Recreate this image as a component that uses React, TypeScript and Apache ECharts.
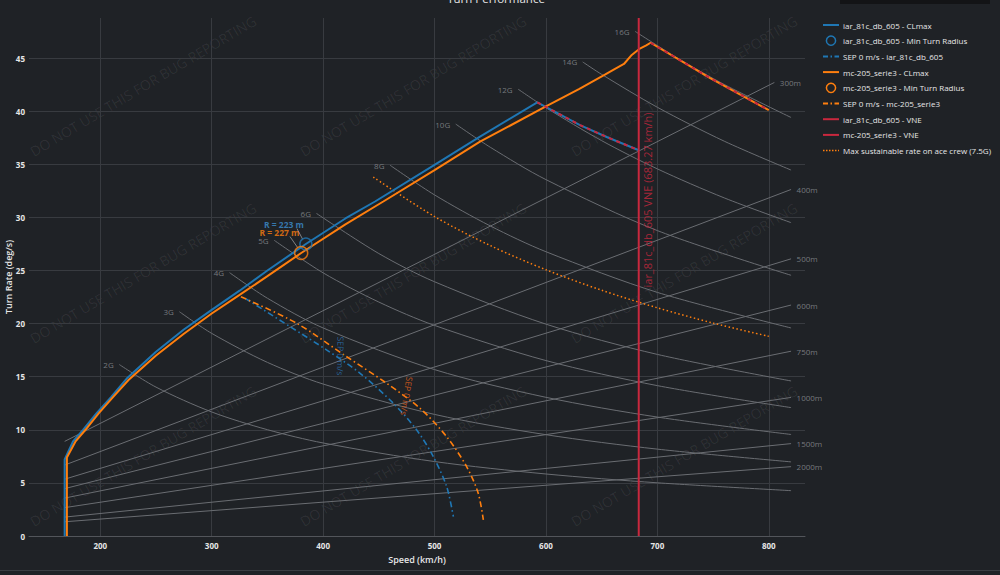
import React, { useEffect, useRef } from "react";
import * as echarts from "echarts";

type Pt = [number, number];

const FONT = '"Open Sans", "Noto Sans", sans-serif';
const BG = "#1f2226";
const GRID = "#383b40";
const REF = "#6a6d72";
const REF_TXT = "#8d9094";
const TXT = "#e6e6e6";
const BLUE = "#1f77b4";
const ORANGE = "#ff7f0e";
const RED = "#c9283e";

// ---- axes ----
const xMin = 136;
const xMax = 832.5;
const yMin = 0;
const yMax = 48.78;

// ---- CLmax curves (speed km/h, turn rate deg/s) ----
const iarClmax: Pt[] = [
  [168, 0], [168, 7.2], [175.5, 8.9], [184.5, 10.0], [196.5, 11.55], [210, 13.12], [223.5, 14.8],
  [250, 17.35], [275, 19.45], [300, 21.3], [325, 23.1], [350, 25.0], [384.5, 27.5], [420, 29.9],
  [446.6, 31.5], [500, 34.95], [540.8, 37.6], [592.2, 40.84], [630.5, 38.7], [655, 37.55], [682.8, 36.35],
];
const mcClmax: Pt[] = [
  [170, 0], [170, 7.4], [177.6, 8.88], [186.5, 9.98], [198.5, 11.55], [211.8, 13.12], [225.3, 14.69],
  [250, 17.0], [275, 19.05], [300, 20.95], [325, 22.7], [350, 24.47], [380.3, 26.65], [420, 29.35],
  [454, 31.5], [500, 34.45], [540.8, 37.13], [599.1, 40.4], [630, 42.1], [652.9, 43.45], [662, 44.0],
  [670, 44.45], [677, 45.3], [684.3, 45.9], [690, 46.2], [693.9, 46.45], [747, 43.15], [800, 40.1],
];

// ---- structural limit (VNE series overlays) ----
const iarLimit: Pt[] = [[592.2, 40.84], [630.5, 38.7], [655, 37.55], [682.8, 36.35]];
const mcLimit: Pt[] = [[693.9, 46.45], [747, 43.15], [800, 40.1]];
const vneSpeed = 683.27;
const vneLine: Pt[] = [[vneSpeed, yMin], [vneSpeed, yMax]];
const vneLabel = "iar_81c_db_605 VNE (683.27 km/h)";
const vneLabelAnchor: Pt = [vneSpeed, 23.4];

// ---- SEP 0 m/s curves ----
const iarSep: Pt[] = [
  [330.0, 22.38], [370.4, 19.71], [403.3, 17.51], [433.2, 15.32], [463.0, 12.5],
  [484.0, 9.98], [498.9, 7.47], [510.9, 4.64], [516.9, 1.82],
];
const mcSep: Pt[] = [
  [326.2, 22.53], [376.3, 20.03], [421.2, 16.88], [457.0, 14.38], [487.0, 12.02],
  [510.9, 9.35], [528.8, 6.53], [539.2, 4.02], [543.8, 1.51],
];
const sepLabel = "SEP 0 m/s";
const iarSepLabelPos: Pt = [415.8, 16.95];
const mcSepLabelPos: Pt = [475.2, 13.18];

// ---- minimum turn radius ----
const iarMinRadius: Pt = [384.5, 27.5];
const mcMinRadius: Pt = [380.3, 26.65];
const minRadiusText = ["R = 223 m", "R = 227 m"];
const minRadiusLabelPos: Pt[] = [[364.8, 29.37], [360.8, 28.62]];
const minRadiusArrows: Pt[][] = [
  [[376.5, 28.95], [381.6, 27.95]],
  [[370.2, 28.2], [377.2, 27.15]],
];

// ---- max sustainable rate (7.5G) ----
const maxSustained: Pt[] = [
  [445, 33.8], [500, 30.08], [550, 27.35], [600, 25.07], [650, 23.14], [700, 21.49], [750, 20.05], [800, 18.8],
];

// ---- load factor reference curves ----
const gLabels = ["2G", "3G", "4G", "5G", "6G", "8G", "10G", "12G", "14G", "16G"];
const gCurves: Pt[][] = [
  [[217, 16.15], [250, 14.02], [300, 11.68], [350, 10.01], [400, 8.76], [500, 7.01], [600, 5.84], [700, 5.01], [820, 4.27]],
  [[271, 21.12], [300, 19.08], [350, 16.35], [400, 14.31], [500, 11.45], [600, 9.54], [700, 8.18], [820, 6.98]],
  [[316, 24.8], [350, 22.39], [400, 19.59], [500, 15.67], [600, 13.06], [700, 11.2], [820, 9.56]],
  [[356, 27.85], [400, 24.78], [450, 22.03], [500, 19.83], [600, 16.52], [700, 14.16], [820, 12.09]],
  [[394, 30.38], [450, 26.6], [500, 23.94], [600, 19.95], [700, 17.1], [820, 14.6]],
  [[460, 34.92], [500, 32.12], [550, 29.2], [600, 26.77], [700, 22.94], [820, 19.59]],
  [[519, 38.79], [550, 36.61], [600, 33.56], [700, 28.76], [820, 24.55]],
  [[575, 42.08], [600, 40.33], [650, 37.23], [700, 34.57], [760, 31.84], [820, 29.51]],
  [[633, 44.64], [650, 43.47], [700, 40.37], [760, 37.18], [820, 34.46]],
  [[680, 47.52], [720, 44.88], [760, 42.52], [820, 39.41]],
];

// ---- turn radius reference lines ----
const radiusLabels = ["300m", "400m", "500m", "600m", "750m", "1000m", "1500m", "2000m"];
const radiusLines: Pt[][] = [
  [[168, 8.91], [805, 42.71]],
  [[168, 6.68], [820, 32.63]],
  [[168, 5.35], [820, 26.1]],
  [[168, 4.46], [820, 21.75]],
  [[168, 3.57], [820, 17.4]],
  [[168, 2.67], [820, 13.05]],
  [[168, 1.78], [820, 8.7]],
  [[168, 1.34], [820, 6.53]],
];

// ---- legend ----
const legendNames = [
  "iar_81c_db_605 - CLmax",
  "iar_81c_db_605 - Min Turn Radius",
  "SEP 0 m/s - iar_81c_db_605",
  "mc-205_serie3 - CLmax",
  "mc-205_serie3 - Min Turn Radius",
  "SEP 0 m/s - mc-205_serie3",
  "iar_81c_db_605 - VNE",
  "mc-205_serie3 - VNE",
  "Max sustainable rate on ace crew (7.5G)",
];
const legendKinds = ["line", "circle", "dashdot", "line", "circle", "dashdot", "line", "line", "dot"];
const legendColors = [BLUE, BLUE, BLUE, ORANGE, ORANGE, ORANGE, RED, RED, ORANGE];

const watermark = "DO NOT USE THIS FOR BUG REPORTING";
const title = "Turn Performance";

const DASHDOT = [6, 3, 1.5, 3];

function lineSeries(name: string, data: Pt[], color: string, width: number, extra: any = {}) {
  return {
    type: "line",
    name,
    data,
    symbol: "none",
    showSymbol: false,
    silent: true,
    animation: false,
    lineStyle: { color, width, ...(extra.lineStyle || {}) },
    itemStyle: { color },
    z: extra.z ?? 3,
    smooth: extra.smooth ?? false,
  };
}

function labelSeries(data: any[], label: any, z = 9) {
  return {
    type: "scatter",
    data,
    symbolSize: 1,
    itemStyle: { color: "rgba(0,0,0,0)" },
    silent: true,
    animation: false,
    label: { show: true, formatter: "{b}", fontFamily: FONT, ...label },
    z,
  };
}

function buildGraphics() {
  const g: any[] = [];
  // watermark grid
  const wx = [143, 413, 684];
  const wy = [86, 273, 456];
  wy.forEach((y) =>
    wx.forEach((x) =>
      g.push({
        type: "text",
        x,
        y,
        rotation: (30.7 * Math.PI) / 180,
        z: 0,
        silent: true,
        style: {
          text: watermark,
          fill: "rgba(255,255,255,0.07)",
          font: `14px ${FONT}`,
          textAlign: "center",
          textVerticalAlign: "middle",
          verticalAlign: "middle",
        },
      })
    )
  );
  // title
  g.push({
    type: "text",
    x: 496,
    y: -1.5,
    style: {
      text: title,
      fill: TXT,
      font: `11.5px ${FONT}`,
      textAlign: "center",
      textVerticalAlign: "middle",
      verticalAlign: "middle",
    },
  });
  // legend
  legendNames.forEach((name, i) => {
    const y = 25 + i * 15.7;
    const kind = legendKinds[i];
    const color = legendColors[i];
    if (kind === "circle") {
      g.push({ type: "circle", shape: { cx: 831, cy: y, r: 4.6 }, style: { fill: "none", stroke: color, lineWidth: 1.5 } });
    } else {
      const dash = kind === "dashdot" ? [5, 2.5, 1.5, 2.5] : kind === "dot" ? [1.5, 1.5] : null;
      g.push({
        type: "line",
        shape: { x1: 823, y1: y, x2: 839, y2: y },
        style: { stroke: color, lineWidth: kind === "dot" ? 1.5 : 2, lineDash: dash },
      });
    }
    g.push({
      type: "text",
      x: 843,
      y,
      style: {
        text: name,
        fill: TXT,
        font: `8px ${FONT}`,
        textAlign: "left",
        textVerticalAlign: "middle",
        verticalAlign: "middle",
      },
    });
  });
  // top right bar and bottom border (page chrome)
  g.push({ type: "rect", shape: { x: 840, y: 0, width: 150, height: 4 }, style: { fill: "#131416" } });
  g.push({ type: "line", shape: { x1: 0, y1: 570.5, x2: 1000, y2: 570.5 }, style: { stroke: "#3a3d42", lineWidth: 1 } });
  return g;
}

function buildOption() {
  const series: any[] = [];

  gCurves.forEach((c, i) => series.push(lineSeries("g" + gLabels[i], c, REF, 1, { z: 1, smooth: 0.3 })));
  radiusLines.forEach((c, i) => series.push(lineSeries("r" + radiusLabels[i], c, REF, 1, { z: 1 })));

  series.push(
    labelSeries(
      gCurves.map((c, i) => ({ name: gLabels[i], value: c[0] })),
      { position: "left", distance: 5, color: REF_TXT, fontSize: 8 },
      2
    )
  );
  series.push(
    labelSeries(
      radiusLines.map((c, i) => ({ name: radiusLabels[i], value: c[c.length - 1] })),
      { position: "right", distance: 5, color: REF_TXT, fontSize: 8 },
      2
    )
  );

  series.push(lineSeries(legendNames[8], maxSustained, ORANGE, 1.5, { z: 3, smooth: 0.3, lineStyle: { type: [1.5, 2.5] } }));

  series.push(lineSeries(legendNames[2], iarSep, BLUE, 1.6, { z: 4, smooth: 0.3, lineStyle: { type: DASHDOT } }));
  series.push(lineSeries(legendNames[5], mcSep, ORANGE, 1.6, { z: 4, smooth: 0.3, lineStyle: { type: DASHDOT } }));

  series.push(lineSeries(legendNames[0], iarClmax, BLUE, 2, { z: 5 }));
  series.push(lineSeries(legendNames[3], mcClmax, ORANGE, 2, { z: 5 }));

  series.push(lineSeries(legendNames[6], vneLine, RED, 2, { z: 6 }));
  series.push(lineSeries(legendNames[6] + " limit", iarLimit, RED, 2, { z: 6, lineStyle: { type: [4, 4] } }));
  series.push(lineSeries(legendNames[7], mcLimit, RED, 2, { z: 6, lineStyle: { type: [4, 4] } }));

  minRadiusArrows.forEach((a, i) =>
    series.push(lineSeries("arrow" + i, a, "rgba(170,170,170,0.7)", 1, { z: 6 }))
  );

  series.push({
    type: "scatter",
    name: legendNames[1],
    data: [iarMinRadius],
    symbol: "circle",
    symbolSize: 12,
    itemStyle: { color: "rgba(0,0,0,0)", borderColor: BLUE, borderWidth: 1.5 },
    silent: true,
    z: 7,
  });
  series.push({
    type: "scatter",
    name: legendNames[4],
    data: [mcMinRadius],
    symbol: "circle",
    symbolSize: 13,
    itemStyle: { color: "rgba(0,0,0,0)", borderColor: ORANGE, borderWidth: 1.5 },
    silent: true,
    z: 7,
  });

  series.push(labelSeries([{ name: minRadiusText[0], value: minRadiusLabelPos[0] }], { position: "inside", color: "#3d8fd1", fontSize: 8.5, lineHeight: 7, fontWeight: "bold" }));
  series.push(labelSeries([{ name: minRadiusText[1], value: minRadiusLabelPos[1] }], { position: "inside", color: ORANGE, fontSize: 8.5, lineHeight: 7, fontWeight: "bold" }));

  series.push(labelSeries([{ name: sepLabel, value: iarSepLabelPos }], { position: "inside", rotate: -91, color: "#2b73b5", fontSize: 8.5 }));
  series.push(labelSeries([{ name: sepLabel, value: mcSepLabelPos }], { position: "inside", rotate: -99, color: "#e8631a", fontSize: 8.5 }));

  series.push(labelSeries([{ name: vneLabel, value: vneLabelAnchor }], { position: "right", distance: 8, rotate: 90, color: RED, fontSize: 11 }));

  return {
    animation: false,
    backgroundColor: BG,
    textStyle: { fontFamily: FONT },
    grid: { left: 29, right: 195, top: 18, bottom: 39, containLabel: false, outerBoundsMode: "none" },
    xAxis: {
      type: "value",
      min: xMin,
      max: xMax,
      minInterval: 100,
      maxInterval: 100,
      splitNumber: 7,
      name: "Speed (km/h)",
      nameLocation: "middle",
      nameGap: 19,
      nameMoveOverlap: false,
      nameTextStyle: { color: TXT, fontSize: 9, fontWeight: 600, fontFamily: FONT },
      axisLine: { show: true, onZero: false, lineStyle: { color: "#52555a", width: 1 } },
      axisTick: { show: false },
      axisLabel: {
        color: TXT,
        fontSize: 8,
        fontWeight: "bold",
        margin: 5,
        showMinLabel: false,
        showMaxLabel: false,
        formatter: (v: number) => (Math.abs(v % 100) < 1e-6 ? String(v) : ""),
      },
      splitLine: { show: true, showMinLine: false, showMaxLine: false, lineStyle: { color: GRID, width: 1 } },
    },
    yAxis: {
      type: "value",
      min: yMin,
      max: yMax,
      interval: 5,
      name: "Turn Rate (deg/s)",
      nameLocation: "middle",
      nameGap: 16,
      nameMoveOverlap: false,
      nameTextStyle: { color: TXT, fontSize: 9, fontWeight: 600, fontFamily: FONT },
      axisLine: { show: false },
      axisTick: { show: false },
      axisLabel: {
        color: TXT,
        fontSize: 8,
        fontWeight: "bold",
        margin: 4,
        showMaxLabel: false,
        formatter: (v: number) => (v > 46 ? "" : String(v)),
      },
      splitLine: { show: true, showMinLine: false, showMaxLine: false, lineStyle: { color: GRID, width: 1 } },
    },
    series,
    graphic: buildGraphics(),
  };
}

export default function App() {
  const ref = useRef<HTMLDivElement>(null);
  useEffect(() => {
    document.body.style.margin = "0";
    document.body.style.background = BG;
    const chart = echarts.init(ref.current!, null, { renderer: "svg" });
    chart.setOption(buildOption() as any);
    return () => chart.dispose();
  }, []);
  return <div ref={ref} style={{ width: 1000, height: 575 }} />;
}
